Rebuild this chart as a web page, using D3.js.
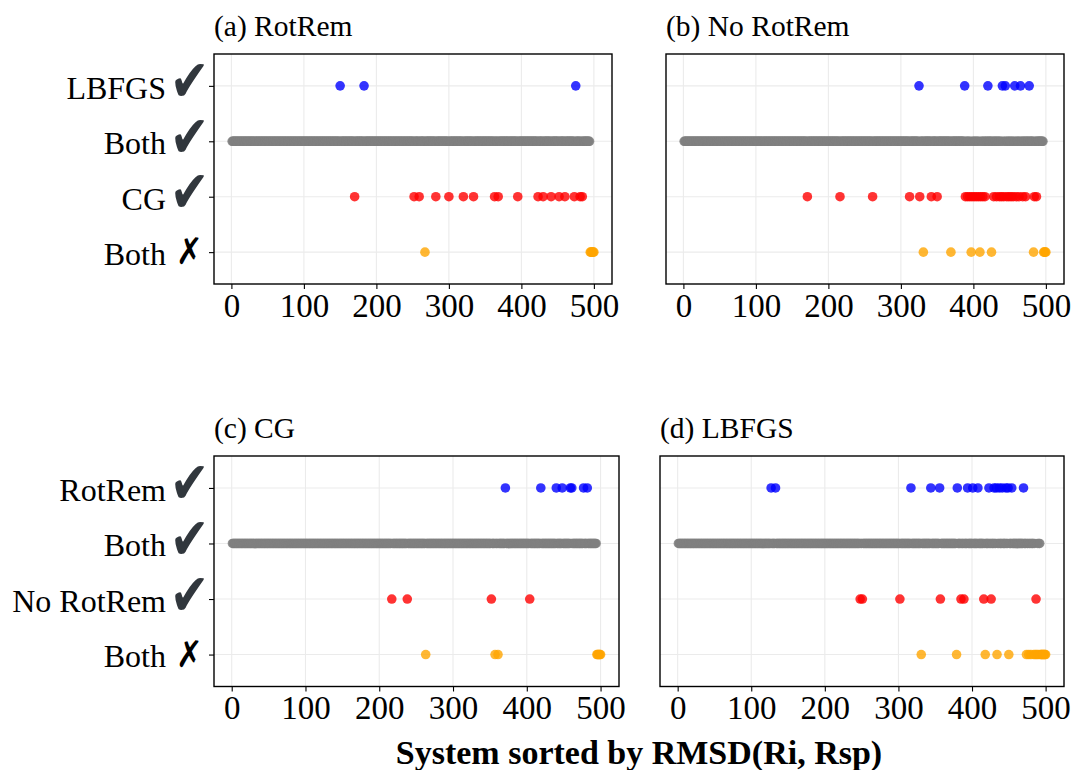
<!DOCTYPE html>
<html>
<head>
<meta charset="utf-8">
<script src="https://cdnjs.cloudflare.com/ajax/libs/d3/7.8.5/d3.min.js"></script>
<style>
  html, body { margin: 0; padding: 0; background: #ffffff; }
  svg { display: block; }
</style>
</head>
<body>
<svg id="chart" width="1074" height="770"></svg>
<script>
// ---------------- DATA ----------------
const nSystems = 500;                       // systems sorted by RMSD(Ri, Rsp)
const xTickValues = [0, 100, 200, 300, 400, 500];
const xTitle = "System sorted by RMSD(Ri, Rsp)";

const panelTitles = ["(a) RotRem", "(b) No RotRem", "(c) CG", "(d) LBFGS"];

// row labels (top -> bottom) for each panel row
const rowNamesTop = ["LBFGS", "Both", "CG", "Both"];
const rowNamesBottom = ["RotRem", "Both", "No RotRem", "Both"];
const rowMarks = ["✔", "✔", "✔", "✗"];

// (a) RotRem
const aBlue   = [150, 183, 475];
const aRed    = [170, 252, 259, 282, 300, 320, 334, 363, 368, 395, 423, 430, 441, 452, 460, 473, 481, 484];
const aOrange = [267, 495, 496, 497, 498, 499, 500];
// (b) No RotRem
const bBlue   = [325, 388, 420, 440, 444, 457, 465, 477];
const bRed    = [171, 216, 261, 312, 326, 342, 350, 389, 392, 395, 398, 401, 404, 407, 410, 413, 416,
                 428, 432, 436, 439, 442, 446, 449, 452, 455, 459, 463, 468, 472, 484, 487];
const bOrange = [331, 369, 397, 409, 425, 483, 497, 498, 499, 500];
// (c) CG
const cBlue   = [371, 419, 440, 448, 459, 461, 477, 482];
const cRed    = [217, 238, 352, 404];
const cOrange = [263, 357, 361, 495, 496, 497, 498, 499, 500];
// (d) LBFGS
const dBlue   = [127, 133, 317, 344, 356, 380, 394, 401, 408, 423, 430, 433, 437, 441, 446, 449, 454, 470];
const dRed    = [248, 251, 302, 357, 385, 389, 416, 426, 487];
const dOrange = [331, 379, 418, 434, 450, 474, 477, 480, 484, 486, 488, 490, 493, 494, 495, 496, 497, 498, 499, 500];

const rowColors = ["#0000ff", "#7f7f7f", "#ff0000", "#ffa500"];

// ---------------- DRAW ----------------
const svg = d3.select("#chart");
const FONT = "'Liberation Serif', 'Times New Roman', serif";

const panels = [
  { title: panelTitles[0], box: [214, 54, 612, 284],   rows: rowNamesTop,    yLabels: true,  sets: [aBlue, aRed, aOrange] },
  { title: panelTitles[1], box: [666, 54, 1064, 284],  rows: rowNamesTop,    yLabels: false, sets: [bBlue, bRed, bOrange] },
  { title: panelTitles[2], box: [214, 456, 619, 686.5], rows: rowNamesBottom, yLabels: true,  sets: [cBlue, cRed, cOrange] },
  { title: panelTitles[3], box: [660, 456, 1064, 686.5], rows: rowNamesBottom, yLabels: false, sets: [dBlue, dRed, dOrange] }
];

panels.forEach(p => {
  const [x0, y0, x1, y1] = p.box;
  const [blue, red, orange] = p.sets;
  const taken = new Set([...blue, ...red, ...orange]);
  const gray = d3.range(1, nSystems + 1).filter(i => !taken.has(i));
  const rowData = [blue, gray, red, orange];
  const rowKeys = p.rows.map((r, i) => i);

  const x = d3.scaleLinear().domain([-24, 525]).range([x0, x1]);
  const y = d3.scalePoint().domain(rowKeys).range([y0, y1]).padding(0.575);

  const g = svg.append("g");

  // grid
  g.append("g").selectAll("line").data(xTickValues).join("line")
    .attr("x1", d => x(d)).attr("x2", d => x(d)).attr("y1", y0).attr("y2", y1)
    .attr("stroke", "#ebebeb").attr("stroke-width", 1.1);
  g.append("g").selectAll("line").data(rowKeys).join("line")
    .attr("x1", x0).attr("x2", x1).attr("y1", d => y(d)).attr("y2", d => y(d))
    .attr("stroke", "#ebebeb").attr("stroke-width", 1.1);

  // points
  rowData.forEach((vals, ri) => {
    g.append("g").selectAll("circle").data(vals).join("circle")
      .attr("cx", d => x(d)).attr("cy", y(ri)).attr("r", 4.8)
      .attr("fill", rowColors[ri]).attr("fill-opacity", 0.8);
  });

  // border
  g.append("rect").attr("x", x0).attr("y", y0).attr("width", x1 - x0).attr("height", y1 - y0)
    .attr("fill", "none").attr("stroke", "#000").attr("stroke-width", 1.4);

  // x axis
  const xAxis = d3.axisBottom(x).tickValues(xTickValues).tickSize(5).tickPadding(4).tickFormat(d3.format("d"));
  const ax = g.append("g").attr("transform", `translate(0,${y1})`).call(xAxis);
  ax.select(".domain").remove();
  ax.selectAll(".tick line").attr("stroke", "#000").attr("stroke-width", 1.1);
  ax.selectAll(".tick text").attr("font-family", FONT).attr("font-size", 33).attr("fill", "#000")
    .attr("dy", null).attr("y", 32.5);

  // y axis labels
  if (p.yLabels) {
    const yAxis = d3.axisLeft(y).tickSize(5).tickFormat(() => "");
    const ay = g.append("g").attr("transform", `translate(${x0},0)`).call(yAxis);
    ay.select(".domain").remove();
    ay.selectAll(".tick line").attr("stroke", "#000").attr("stroke-width", 1.1);
    const lab = g.append("g");
    rowKeys.forEach(ri => {
      lab.append("text").attr("x", x0 - 48).attr("y", y(ri) + 12.8)
        .attr("text-anchor", "end").attr("font-family", FONT).attr("font-size", 32)
        .attr("fill", "#000").text(p.rows[ri]);
      const isX = ri === 3;
      lab.append("text")
        .attr("transform", `translate(${x0 - 24.5},${y(ri) + (isX ? 12 : 15.5)}) scale(${isX ? 1 : 1.05},${isX ? 1.15 : 1.3})`)
        .attr("text-anchor", "middle").attr("font-family", "'DejaVu Sans', sans-serif")
        .attr("font-size", isX ? 32 : 45).attr("font-weight", isX ? "bold" : "normal")
        .attr("fill", isX ? "#000" : "#31373d").text(rowMarks[ri]);
    });
  }

  // title
  svg.append("text").attr("x", x0).attr("y", y0 - 18)
    .attr("font-family", FONT).attr("font-size", 29.5).attr("fill", "#000").text(p.title);
});

// shared x title
svg.append("text").attr("x", 639).attr("y", 764).attr("text-anchor", "middle")
  .attr("font-family", FONT).attr("font-size", 34).attr("font-weight", "bold").attr("fill", "#000")
  .text(xTitle);
</script>
</body>
</html>
